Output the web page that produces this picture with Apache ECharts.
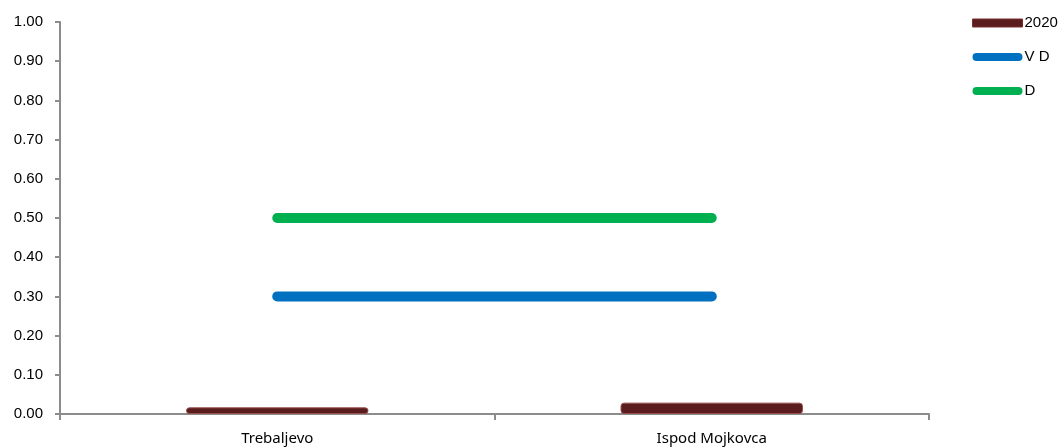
<!DOCTYPE html>
<html>
<head>
<meta charset="utf-8">
<script src="https://cdn.jsdelivr.net/npm/echarts@6/dist/echarts.min.js"></script>
<style>html,body{margin:0;padding:0;background:#fff;}#c{width:1064px;height:448px;}</style>
</head>
<body>
<div id="c"></div>
<script>
const categories = ['Trebaljevo', 'Ispod Mojkovca'];
const values2020 = [0.017, 0.029];
const valuesVD = [0.30, 0.30];
const valuesD = [0.50, 0.50];
const yTicks = ['0.00','0.10','0.20','0.30','0.40','0.50','0.60','0.70','0.80','0.90','1.00'];

const capsule = 'path://M4,0 H46 A4,4 0 0 1 46,8 H4 A4,4 0 0 1 4,0 Z';
const chart = echarts.init(document.getElementById('c'), null, {renderer: 'canvas'});
chart.setOption({
  animation: false,
  backgroundColor: '#ffffff',
  grid: {left: 60, right: 135, top: 22, bottom: 34, containLabel: false},
  legend: {
    orient: 'vertical',
    left: 972,
    top: 15,
    padding: 0,
    itemWidth: 50,
    itemHeight: 8,
    itemGap: 18,
    textStyle: {fontFamily: 'Liberation Sans', fontSize: 15, lineHeight: 16, color: '#000', padding: [0,0,0,-3]},
    data: [
      {name: '2020', icon: 'rect', itemStyle: {color: '#5a1c1c', borderColor: '#7a3030', borderWidth: 1}},
      {name: 'V D', icon: capsule, itemStyle: {color: '#0070C0'}},
      {name: 'D', icon: capsule, itemStyle: {color: '#00B050'}}
    ]
  },
  xAxis: {
    type: 'category',
    data: categories,
    boundaryGap: true,
    axisLine: {lineStyle: {color: '#8c8c8c', width: 2}},
    axisTick: {show: true, length: 6, lineStyle: {color: '#8c8c8c', width: 2}},
    axisLabel: {fontFamily: 'Noto Sans', fontSize: 15, color: '#000', margin: 17}
  },
  yAxis: {
    type: 'value',
    min: 0, max: 1, interval: 0.1,
    axisLine: {show: true, lineStyle: {color: '#8c8c8c', width: 2}},
    axisTick: {show: true, length: 5, lineStyle: {color: '#8c8c8c', width: 2}},
    splitLine: {show: false},
    axisLabel: {fontFamily: 'Liberation Sans', fontSize: 15, color: '#000', margin: 17,
      formatter: (v) => yTicks[Math.round(v * 10)]}
  },
  series: [
    {
      name: '2020', type: 'bar', data: values2020, barWidth: '42%',
      itemStyle: {color: '#5a1c1c', borderColor: '#9a5050', borderWidth: 1, borderRadius: 3}
    },
    {
      name: 'V D', type: 'line', data: valuesVD, symbol: 'none',
      lineStyle: {color: '#0070C0', width: 10, cap: 'round'}, itemStyle: {color: '#0070C0'}
    },
    {
      name: 'D', type: 'line', data: valuesD, symbol: 'none',
      lineStyle: {color: '#00B050', width: 10, cap: 'round'}, itemStyle: {color: '#00B050'}
    }
  ]
});
</script>
</body>
</html>
